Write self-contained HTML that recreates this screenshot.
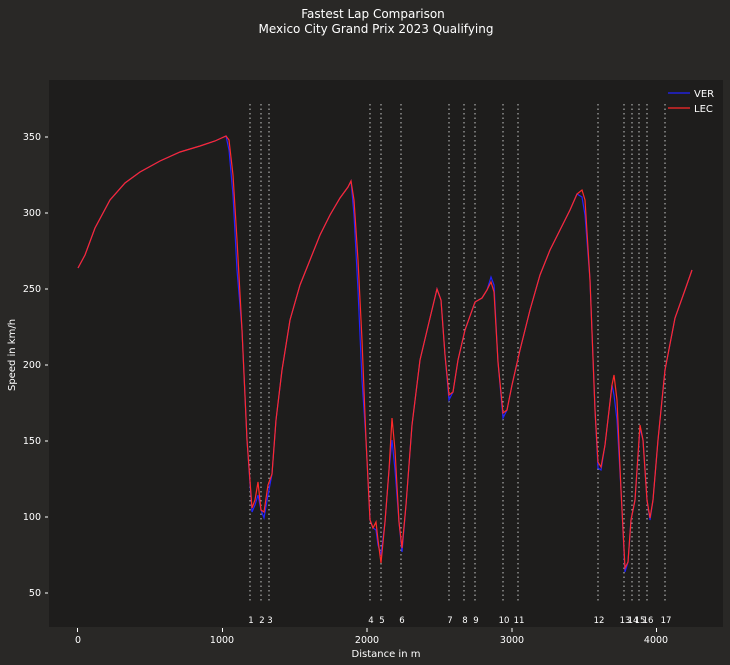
<!DOCTYPE html>
<html><head><meta charset="utf-8"><style>
body{margin:0;background:#292826;}
svg{display:block;font-family:"DejaVu Sans","Liberation Sans",sans-serif;}
</style></head><body>
<svg id="s" width="730" height="665" xmlns="http://www.w3.org/2000/svg">
<rect width="730" height="665" fill="#292826"/>
<text x="373" y="18" fill="#fff" font-size="12" text-anchor="middle">Fastest Lap Comparison</text>
<text x="376" y="33" fill="#fff" font-size="12" text-anchor="middle">Mexico City Grand Prix 2023 Qualifying</text>
<rect x="49" y="80" width="674" height="547" fill="#1e1d1c"/>
<g id="corners" stroke="#aaa" stroke-width="1.2" stroke-dasharray="1.5,3"></g>
<g id="clabels" fill="#fff" font-size="8.5" text-anchor="middle"></g>
<g fill="#fff" font-size="9.5" text-anchor="end">
<text x="41" y="596">50</text><text x="41" y="520">100</text><text x="41" y="444">150</text>
<text x="41" y="368">200</text><text x="41" y="292">250</text><text x="41" y="216">300</text><text x="41" y="140">350</text>
</g>
<g stroke="#fff" stroke-width="1">
<line x1="45" y1="593" x2="48" y2="593"/><line x1="45" y1="517" x2="48" y2="517"/><line x1="45" y1="441" x2="48" y2="441"/>
<line x1="45" y1="365" x2="48" y2="365"/><line x1="45" y1="289" x2="48" y2="289"/><line x1="45" y1="213" x2="48" y2="213"/><line x1="45" y1="137" x2="48" y2="137"/>
<line x1="77.5" y1="628" x2="77.5" y2="632"/><line x1="222.5" y1="628" x2="222.5" y2="632"/><line x1="367" y1="628" x2="367" y2="632"/><line x1="512" y1="628" x2="512" y2="632"/><line x1="656.5" y1="628" x2="656.5" y2="632"/>
</g>
<g fill="#fff" font-size="9.5" text-anchor="middle">
<text x="78" y="643">0</text><text x="222" y="643">1000</text><text x="367" y="643">2000</text><text x="512" y="643">3000</text><text x="656" y="643">4000</text>
<text x="386" y="657" font-size="10">Distance in m</text>
<text x="15" y="355" font-size="10" transform="rotate(-90 15 355)">Speed in km/h</text>
</g>
<polyline id="ver" fill="none" stroke="#2222ff" stroke-width="1.2"/>
<polyline id="lec" fill="none" stroke="#ff2a2a" stroke-width="1.2"/>
<line x1="668" y1="93" x2="690" y2="93" stroke="#2222ff" stroke-width="1.2"/>
<line x1="668" y1="108" x2="690" y2="108" stroke="#ff2a2a" stroke-width="1.2"/>
<text x="694" y="97" fill="#fff" font-size="10">VER</text>
<text x="694" y="112" fill="#fff" font-size="10">LEC</text>
</svg>
<script>
var cx=[250,261,269,370,381,401,449,464,475,503,518,598,624,632,639,647,665];
var g=document.getElementById('corners'),l=document.getElementById('clabels'),ns="http://www.w3.org/2000/svg";
cx.forEach(function(x,i){var e=document.createElementNS(ns,'line');e.setAttribute('x1',x);e.setAttribute('x2',x);e.setAttribute('y1',104);e.setAttribute('y2',603);g.appendChild(e);
var t=document.createElementNS(ns,'text');t.setAttribute('x',x+1);t.setAttribute('y',623);t.textContent=i+1;l.appendChild(t);});
var lec=[[78,268],[85,255],[95,228],[110,200],[125,183],[140,172],[160,161],[180,152],[200,146],[215,141],[226,136],[229,140],[233,175],[237,240],[242,330],[247,440],[252,508],[255,500],[258,482],[261,510],[264,512],[268,485],[272,474],[276,420],[282,370],[290,320],[300,285],[310,260],[320,235],[330,215],[340,198],[348,187],[351,181],[354,200],[358,260],[362,340],[366,440],[370,520],[373,528],[376,522],[378,540],[381,563],[385,522],[389,470],[392,418],[395,450],[399,522],[402,548],[406,505],[412,425],[420,360],[430,318],[437,289],[441,300],[445,355],[449,395],[453,392],[458,360],[465,330],[475,302],[482,298],[487,290],[491,282],[494,292],[498,362],[503,413],[507,410],[512,385],[520,350],[530,310],[540,275],[550,250],[560,230],[570,210],[577,194],[582,190],[585,200],[590,280],[595,410],[598,462],[601,467],[605,445],[612,385],[614,375],[617,400],[621,490],[625,568],[628,562],[631,520],[635,500],[640,425],[643,440],[647,500],[650,518],[653,500],[658,440],[665,370],[675,318],[685,290],[692,270]];
var ver=lec.map(function(p){return [p[0],p[1]];});
function set(x,y){for(var i=0;i<ver.length;i++)if(ver[i][0]==x)ver[i][1]=y;}
set(229,150);set(233,195);set(237,270);set(252,512);set(255,505);set(258,495);set(264,518);set(268,495);set(376,530);set(378,545);set(381,555);set(392,440);set(395,470);set(402,552);set(449,400);set(491,277);set(494,285);set(503,418);set(582,197);set(585,215);set(598,468);set(601,470);set(614,395);set(617,420);set(625,572);set(640,428);set(650,520);set(354,215);set(358,290);set(362,380);
function pts(a){return a.map(function(p){return p.join(',');}).join(' ');}
document.getElementById('ver').setAttribute('points',pts(ver));
document.getElementById('lec').setAttribute('points',pts(lec));
</script>
</body></html>
